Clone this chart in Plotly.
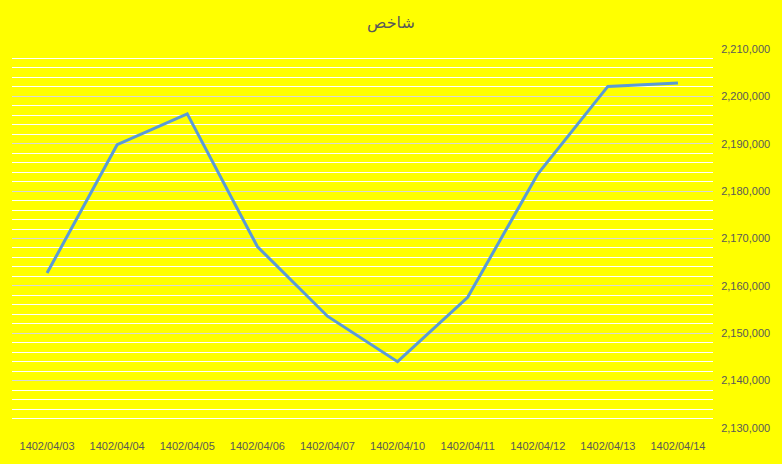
import plotly.graph_objects as go

# ---- Data ----
dates = ["1402/04/03", "1402/04/04", "1402/04/05", "1402/04/06", "1402/04/07",
         "1402/04/10", "1402/04/11", "1402/04/12", "1402/04/13", "1402/04/14"]
index_values = [2162700, 2189800, 2196300, 2168300, 2153600,
                2144000, 2157600, 2183600, 2202100, 2202800]

y_ticks = [2130000, 2140000, 2150000, 2160000, 2170000,
           2180000, 2190000, 2200000, 2210000]

fig = go.Figure()

fig.add_trace(go.Scatter(
    x=dates,
    y=index_values,
    mode="lines",
    line=dict(color="#5B9BD5", width=3),
    name="شاخص",
    hovertemplate="%{x}<br>%{y:,}<extra></extra>",
))

fig.update_layout(
    width=782,
    height=464,
    paper_bgcolor="#FFFF00",
    plot_bgcolor="#FFFF00",
    margin=dict(l=12, r=62, t=49, b=30),
    showlegend=False,
    title=dict(
        text="شاخص",
        x=0.5,
        xanchor="center",
        y=1 - 22 / 464,
        yanchor="middle",
        font=dict(family="DejaVu Sans", size=16, color="#595959"),
    ),
    font=dict(family="Liberation Sans", size=11, color="#595959"),
    xaxis=dict(
        type="category",
        range=[-0.5, len(dates) - 0.5],
        showgrid=False,
        zeroline=False,
        showline=False,
        ticks="outside",
        ticklen=8,
        tickcolor="rgba(0,0,0,0)",
        tickfont=dict(size=11, color="#595959"),
    ),
    yaxis=dict(
        side="right",
        range=[y_ticks[0], y_ticks[-1]],
        tickvals=y_ticks,
        tickformat=",d",
        showgrid=True,
        gridcolor="#D9D9D9",
        gridwidth=1,
        zeroline=False,
        showline=False,
        ticks="outside",
        ticklen=5,
        tickcolor="rgba(0,0,0,0)",
        tickfont=dict(size=11, color="#595959"),
        minor=dict(dtick=2000, showgrid=True, gridcolor="#FFFFFF", gridwidth=1.3),
    ),
)

# drop the page margin so the figure fills the window
fig.write_html(
    "out.html",
    config={"displayModeBar": False},
    post_script="document.body.style.margin='0';",
)
